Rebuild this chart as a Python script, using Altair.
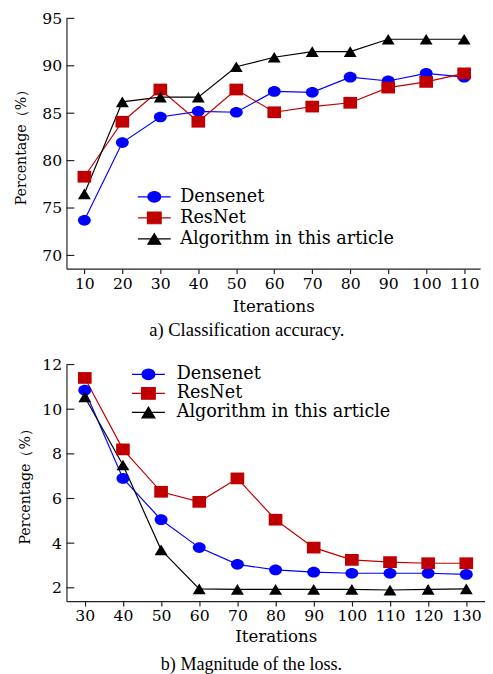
import altair as alt
import pandas as pd

names = ["Densenet", "ResNet", "Algorithm in this article"]
colors = ["#0000FF", "#C00000", "#000000"]

# Panel a) Classification accuracy
iters_a = [10, 20, 30, 40, 50, 60, 70, 80, 90, 100, 110]
dense_a = [73.7, 81.9, 84.6, 85.2, 85.1, 87.3, 87.2, 88.8, 88.4, 89.2, 88.8]
resnet_a = [78.3, 84.1, 87.5, 84.1, 87.5, 85.1, 85.7, 86.1, 87.7, 88.3, 89.2]
algo_a = [76.5, 86.2, 86.7, 86.7, 89.9, 90.9, 91.5, 91.5, 92.8, 92.8, 92.8]
yticks_a = [70, 75, 80, 85, 90, 95]

# Panel b) Magnitude of the loss
iters_b = [30, 40, 50, 60, 70, 80, 90, 100, 110, 120, 130]
dense_b = [10.85, 6.9, 5.05, 3.8, 3.05, 2.8, 2.7, 2.65, 2.65, 2.65, 2.6]
resnet_b = [11.4, 8.2, 6.3, 5.85, 6.9, 5.05, 3.8, 3.25, 3.15, 3.1, 3.1]
algo_b = [10.55, 7.5, 3.7, 1.95, 1.93, 1.93, 1.93, 1.93, 1.9, 1.93, 1.95]
yticks_b = [2, 4, 6, 8, 10, 12]

FONT = "DejaVu Serif"
CAP_FONT = "Liberation Serif"
AXC = "#222222"
SIZE = 174

ell = "M-1,0A1,0.83,0,1,0,1,0A1,0.83,0,1,0,-1,0Z"
sq = "M-1.06,-0.91H1.06V0.91H-1.06Z"
tri = "M0,-0.83L1,0.83L-1,0.83Z"
shapes = [ell, sq, tri]
seg = "M-2.55,0H2.55"
leg_shapes = [seg + s for s in shapes]


def panel(iters, series, xdom, ydom, yticks, W, H, caption, cap_size, cap_offset,
          ytitlepad, xtitlepad, legx, legy, legrowpad, legoffset):
    rows = []
    for n, vals in zip(names, series):
        for it, v in zip(iters, vals):
            rows.append({"iter": it, "val": v, "series": n})
    df = pd.DataFrame(rows)
    base = alt.Chart(df)
    x = alt.X("iter:Q", scale=alt.Scale(domain=xdom, nice=False, zero=False),
              axis=alt.Axis(values=iters, format="d", title="Iterations", grid=False,
                            tickSize=5, labelPadding=2, labelFont=FONT, labelFontSize=16,
                            titleFont=FONT, titleFontSize=17, titleFontWeight="normal",
                            titlePadding=xtitlepad, labelFlush=False, labelOverlap=False))
    y = alt.Y("val:Q", scale=alt.Scale(domain=ydom, nice=False, zero=False),
              axis=alt.Axis(values=yticks, format="d", title="Percentage（%）", grid=False,
                            tickSize=0, labelPadding=5, labelFont=FONT, labelFontSize=16,
                            titleFont=FONT, titleFontSize=14.5, titleFontWeight="normal",
                            titlePadding=ytitlepad, labelOverlap=False))
    layers = []
    for n, c in zip(names, colors):
        layers.append(base.transform_filter(alt.datum.series == n)
                      .mark_line(strokeWidth=1.2, color=c).encode(x=x, y=y))
    for n, c, s in zip(names, colors, shapes):
        layers.append(base.transform_filter(alt.datum.series == n)
                      .mark_point(shape=s, filled=True, size=SIZE, opacity=1, color=c)
                      .encode(x=x, y=y))
    ticks = alt.Chart(pd.DataFrame({"val": yticks})).mark_rule(
        color=AXC, strokeWidth=1.2).encode(y=y, x=alt.value(0), x2=alt.value(8))
    layers.append(ticks)
    leg = alt.Legend(title=None, orient="none", legendX=legx, legendY=legy,
                     labelFont=FONT, labelFontSize=18, labelColor="black",
                     symbolSize=SIZE, symbolStrokeWidth=1.2, symbolOpacity=1,
                     labelOffset=legoffset, rowPadding=legrowpad, padding=0,
                     labelLimit=400)
    legend_layer = base.mark_point(filled=True, size=0, opacity=0).encode(
        x=x, y=y,
        fill=alt.Fill("series:N", scale=alt.Scale(domain=names, range=colors), legend=leg),
        stroke=alt.Stroke("series:N", scale=alt.Scale(domain=names, range=colors), legend=leg),
        shape=alt.Shape("series:N", scale=alt.Scale(domain=names, range=leg_shapes), legend=leg))
    layers.append(legend_layer)
    return alt.layer(*layers).properties(
        width=W, height=H,
        title=alt.TitleParams(caption, orient="bottom", anchor="middle", frame="bounds",
                              font=CAP_FONT, fontSize=cap_size, fontWeight="normal",
                              color="black", offset=cap_offset))


top = panel(iters_a, [dense_a, resnet_a, algo_a], [5.29, 114.2], [68.6, 95], yticks_a,
            423, 256, "a) Classification accuracy.", 19, 7,
            14, 8, 80.8, 173.5, 3.5, 17.5)
bottom = panel(iters_b, [dense_b, resnet_b, algo_b], [25.2, 134.9], [1.4, 12], yticks_b,
               428, 242, "b) Magnitude of the loss.", 18.5, 11,
               9.3, 5.3, 74.8, 1.0, 1.5, 19.9)

chart = alt.vconcat(top, bottom, spacing=17).resolve_scale(
    fill="independent", stroke="independent", shape="independent"
).resolve_legend(
    fill="independent", stroke="independent", shape="independent"
).properties(
    padding={"left": 4.8, "top": -5, "right": 0, "bottom": 0},
    background="white",
).configure_view(stroke=None).configure_axis(
    domainColor=AXC, tickColor=AXC, domainWidth=1.2, tickWidth=1.2,
    labelColor="black", titleColor="black")

chart.save("out.html", embed_options={"renderer": "svg", "actions": False})
